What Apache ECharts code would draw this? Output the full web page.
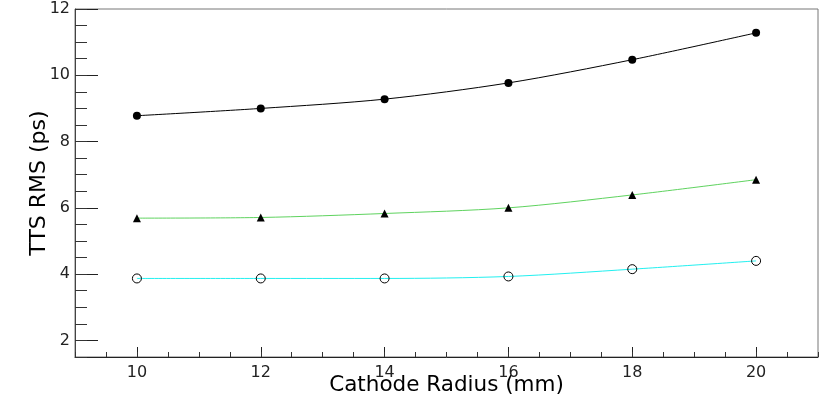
<!DOCTYPE html>
<html>
<head>
<meta charset="utf-8">
<script src="https://cdn.jsdelivr.net/npm/echarts@6/dist/echarts.min.js"></script>
<style>
  html, body { margin: 0; padding: 0; background: #fff; }
  #chart { width: 830px; height: 399px; }
</style>
</head>
<body>
<div id="chart"></div>
<script>
// cathode radius (mm)
const radius = [10, 12, 14, 16, 18, 20]
// TTS RMS (ps)
const ttsBlack = [8.78, 9.0, 9.28, 9.77, 10.47, 11.28]
const ttsGreen = [5.69, 5.71, 5.83, 6.0, 6.39, 6.85]
const ttsCyan = [3.87, 3.87, 3.87, 3.93, 4.15, 4.4]
// tick labels
const xTicks = [10, 12, 14, 16, 18, 20]
const yTicks = [2, 4, 6, 8, 10, 12]

const font = 'DejaVu Sans'

function pairs(xs, ys) {
  return xs.map((x, i) => [x, ys[i]])
}

const chart = echarts.init(document.getElementById('chart'))

chart.setOption({
  backgroundColor: '#fff',
  animation: false,
  grid: {
    left: 75,
    right: 12,
    top: 9,
    bottom: 42,
    outerBoundsMode: 'none',
    containLabel: false,
    show: true,
    borderColor: '#777',
    borderWidth: 1
  },
  xAxis: [{
    type: 'value',
    min: 9,
    max: 21,
    name: 'Cathode Radius (mm)',
    nameLocation: 'middle',
    nameGap: 17,
    nameMoveOverlap: false,
    nameTextStyle: { fontFamily: font, fontSize: 21.5, color: '#000' },
    axisLine: { show: true, lineStyle: { color: '#222', width: 1 } },
    axisTick: {
      show: true, inside: true, length: 10,
      customValues: xTicks,
      lineStyle: { color: '#222' }
    },
    axisLabel: {
      customValues: xTicks,
      margin: 8,
      fontFamily: font, fontSize: 16, color: '#222'
    },
    splitLine: { show: false }
  }, {
    // minor ticks every 0.5
    type: 'value',
    min: 9,
    max: 21,
    interval: 0.5,
    position: 'bottom',
    axisLine: { show: false },
    axisTick: { show: true, inside: true, length: 5, lineStyle: { color: '#333' } },
    axisLabel: { show: false },
    splitLine: { show: false }
  }],
  yAxis: [{
    type: 'value',
    min: 1.5,
    max: 12,
    name: 'TTS RMS (ps)',
    nameLocation: 'middle',
    nameRotate: 90,
    nameGap: 25,
    nameMoveOverlap: false,
    nameTextStyle: { fontFamily: font, fontSize: 22, color: '#000' },
    axisLine: { show: true, lineStyle: { color: '#444', width: 1 } },
    axisTick: {
      show: true, inside: true, length: 23,
      customValues: yTicks,
      lineStyle: { color: '#222' }
    },
    axisLabel: {
      customValues: yTicks,
      margin: 5,
      fontFamily: font, fontSize: 16, color: '#222'
    },
    splitLine: { show: false }
  }, {
    // minor ticks every 0.5
    type: 'value',
    min: 1.5,
    max: 12,
    interval: 0.5,
    position: 'left',
    axisLine: { show: false },
    axisTick: { show: true, inside: true, length: 12, lineStyle: { color: '#333' } },
    axisLabel: { show: false },
    splitLine: { show: false }
  }],
  series: [{
    type: 'line',
    name: 'black',
    smooth: 0.3,
    data: pairs(radius, ttsBlack),
    symbol: 'circle',
    symbolSize: 8,
    lineStyle: { color: '#000', width: 1 },
    itemStyle: { color: '#000' }
  }, {
    type: 'line',
    name: 'green',
    smooth: 0.3,
    data: pairs(radius, ttsGreen),
    symbol: 'triangle',
    symbolSize: 8,
    lineStyle: { color: '#5fd35f', width: 1 },
    itemStyle: { color: '#000' }
  }, {
    type: 'line',
    name: 'cyan',
    smooth: 0.3,
    data: pairs(radius, ttsCyan),
    symbol: 'circle',
    symbolSize: 9,
    lineStyle: { color: '#22f0f0', width: 1 },
    itemStyle: { color: 'rgba(0,0,0,0)', borderColor: '#000', borderWidth: 1 }
  }]
})
</script>
</body>
</html>
